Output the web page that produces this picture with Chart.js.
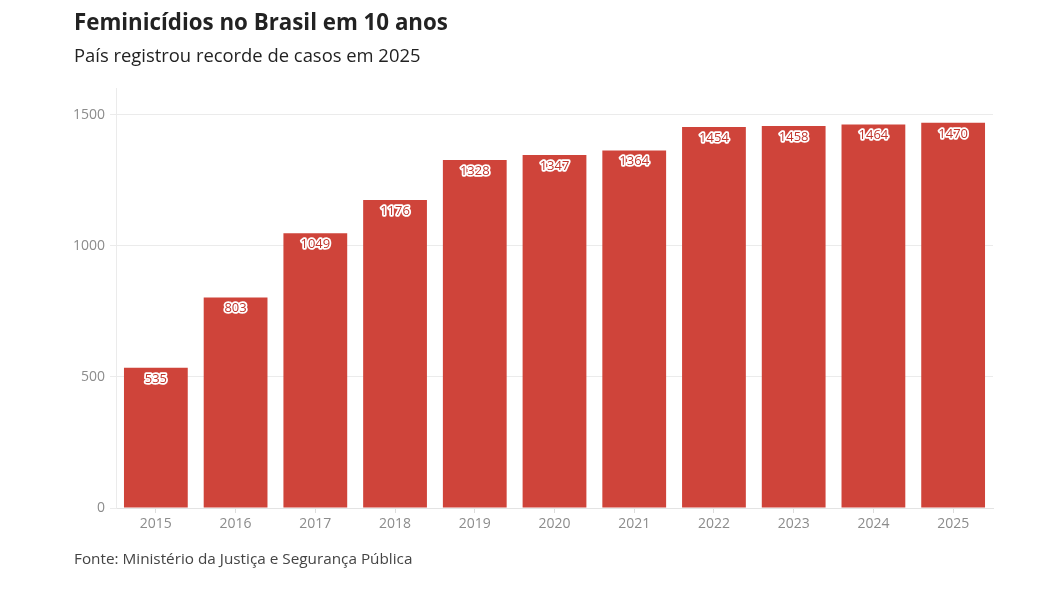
<!DOCTYPE html>
<html>
<head>
<meta charset="utf-8">
<script src="https://cdn.jsdelivr.net/npm/chart.js@4"></script>
<style>
html,body{margin:0;padding:0;background:#fff;}
#wrap{position:relative;width:1054px;height:592px;overflow:hidden;font-family:"Open Sans",sans-serif;}
#title{position:absolute;left:74px;top:6px;font-size:22.3px;line-height:32px;font-weight:700;color:#222;white-space:nowrap;}
#subtitle{position:absolute;left:74px;top:41px;font-size:18.4px;line-height:28px;color:#222;white-space:nowrap;}
#footer{position:absolute;left:74px;top:546px;font-size:15.3px;line-height:24px;color:#444;white-space:nowrap;}
#cv{position:absolute;left:0;top:0;}
</style>
</head>
<body>
<div id="wrap">
<canvas id="cv" width="1054" height="592"></canvas>
<div id="title">Feminicídios no Brasil em 10 anos</div>
<div id="subtitle">País registrou recorde de casos em 2025</div>
<div id="footer">Fonte: Ministério da Justiça e Segurança Pública</div>
</div>
<script>
const categories = ["2015","2016","2017","2018","2019","2020","2021","2022","2023","2024","2025"];
const values = [535, 803, 1049, 1176, 1328, 1347, 1364, 1454, 1458, 1464, 1470];
const yTicks = [0, 500, 1000, 1500];

const barColor = '#cf443a';

const labelPlugin = {
  id: 'barLabels',
  afterDatasetsDraw(chart) {
    const ctx = chart.ctx;
    const meta = chart.getDatasetMeta(0);
    ctx.save();
    ctx.font = '13px "Open Sans", sans-serif';
    ctx.textAlign = 'center';
    ctx.textBaseline = 'middle';
    ctx.lineJoin = 'round';
    meta.data.forEach((bar, i) => {
      const t = String(values[i]);
      const y = bar.y + 11;
      ctx.strokeStyle = '#ffffff';
      ctx.lineWidth = 3.5;
      ctx.strokeText(t, bar.x, y);
      ctx.fillStyle = '#c0352c';
      ctx.fillText(t, bar.x, y);
    });
    ctx.restore();
  }
};

new Chart(document.getElementById('cv'), {
  type: 'bar',
  data: {
    labels: categories,
    datasets: [{
      data: values,
      backgroundColor: barColor,
      borderWidth: 0,
      barPercentage: 0.8,
      categoryPercentage: 1.0
    }]
  },
  options: {
    responsive: false,
    animation: false,
    layout: { padding: { left: 0, right: 61, top: 88, bottom: 0 } },
    plugins: { legend: { display: false }, tooltip: { enabled: false }, title: { display: false } },
    scales: {
      x: {
        afterFit(scale) { scale.height = 84; },
        grid: { offset: false, drawOnChartArea: false, drawTicks: true, tickLength: 5, tickColor: '#dddddd' },
        border: { color: '#e3e3e3', width: 1 },
        ticks: { color: '#8c8c8c', font: { family: '"Open Sans", sans-serif', size: 14 }, padding: 3 }
      },
      y: {
        min: 0,
        max: 1603,
        afterFit(scale) { scale.width = 116; },
        afterBuildTicks(scale) { scale.ticks = yTicks.map(v => ({ value: v })); },
        grid: { color: '#ebebeb', tickColor: '#ebebeb', tickLength: 6, lineWidth: 1 },
        border: { color: '#ebebeb', width: 1 },
        ticks: { color: '#8c8c8c', font: { family: '"Open Sans", sans-serif', size: 14 }, padding: 5,
                 callback: (v) => String(v) }
      }
    }
  },
  plugins: [labelPlugin]
});
</script>
</body>
</html>
